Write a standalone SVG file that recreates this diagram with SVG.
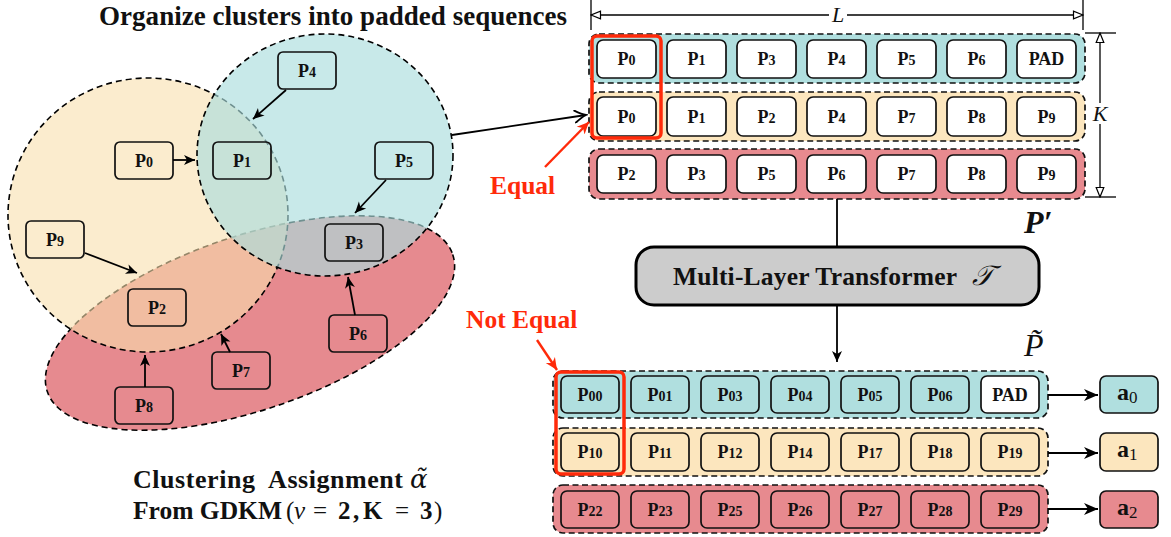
<svg xmlns="http://www.w3.org/2000/svg" width="1171" height="537" viewBox="0 0 1171 537">
  <style>
    .serif { font-family: "Liberation Serif", "Times New Roman", serif; }
    .bold { font-family: "Liberation Serif", "Times New Roman", serif; font-weight: bold; }
    .mathit { font-family: "Liberation Serif", "DejaVu Serif", serif; font-style: italic; }
    .box { stroke: #111; stroke-width: 1.7; }
    .vnode { fill: none; stroke: #111; stroke-width: 1.7; }
    .lbl { font-family: "Liberation Serif", serif; font-weight: bold; font-size: 18px; text-anchor: middle; fill: #111; }
    .lbl .d { font-size: 14px; }
    .cont { stroke: #111; stroke-width: 1.7; stroke-dasharray: 6 3.5; }
    .teal { fill: #b0dfdf; }
    .yel { fill: #fce6be; }
    .red { fill: #e78a8f; }
    .white { fill: #ffffff; }
    .hl { fill: none; stroke: #ff2a0a; stroke-width: 3.5; }
    .wire { stroke: #000; stroke-width: 1.8; fill: none; }
    .dim { stroke: #000; stroke-width: 1.3; fill: none; }
    .note { font-family: "Liberation Serif", serif; font-weight: bold; font-size: 25.5px; fill: #ff2a0a; }
    .aout { font-family: "Liberation Serif", serif; font-weight: bold; font-size: 24px; fill: #111; }
    .aout .s { font-weight: normal; font-size: 17px; }
  </style>
  <defs>
    <marker id="stealth" viewBox="-12 -6 13 12" refX="0" refY="0" markerWidth="13" markerHeight="12" markerUnits="userSpaceOnUse" orient="auto">
      <path d="M0,0 L-11,-5 L-8,0 L-11,5 Z" fill="#000"/>
    </marker>
    <marker id="stealth-big" viewBox="-15 -7 16 14" refX="0" refY="0" markerWidth="16" markerHeight="14" markerUnits="userSpaceOnUse" orient="auto">
      <path d="M0,0 L-14,-6 L-10,0 L-14,6 Z" fill="#000"/>
    </marker>
    <marker id="stealth-red" viewBox="-12 -6 13 12" refX="0" refY="0" markerWidth="13" markerHeight="12" markerUnits="userSpaceOnUse" orient="auto">
      <path d="M0,0 L-12,-5.5 L-8.5,0 L-12,5.5 Z" fill="#ff2a0a"/>
    </marker>
    <marker id="barbs" viewBox="-13 -7 15 14" refX="0" refY="0" markerWidth="15" markerHeight="14" markerUnits="userSpaceOnUse" orient="auto">
      <path d="M-11,-6 Q-4,-1.2 0,0 Q-4,1.2 -11,6" fill="none" stroke="#000" stroke-width="1.9" stroke-linecap="round"/>
    </marker>
    <marker id="open-tri" viewBox="-11 -5 12 10" refX="0" refY="0" markerWidth="12" markerHeight="10" markerUnits="userSpaceOnUse" orient="auto">
      <path d="M0,0 L-9.5,-3.8 L-9.5,3.8 Z" fill="#fff" stroke="#000" stroke-width="1.2" stroke-linejoin="miter"/>
    </marker>
  </defs>

  <!-- overlapping cluster regions -->
  <g id="clusters">
    <ellipse id="cluster-red" cx="250" cy="323" rx="214" ry="87" transform="rotate(-18.7 250 323)" fill="#e68a8f" stroke="#000" stroke-width="1.6" stroke-dasharray="6 4"/>
    <ellipse id="cluster-yellow" cx="148" cy="215" rx="140" ry="137" fill="#f9dfae" fill-opacity="0.6" stroke="#000" stroke-width="1.6" stroke-dasharray="6 4"/>
    <ellipse id="cluster-teal" cx="325" cy="155" rx="128" ry="121" fill="#abdddd" fill-opacity="0.65" stroke="#000" stroke-width="1.6" stroke-dasharray="6 4"/>
  </g>

  <!-- point nodes -->
  <g id="node-p4"><rect class="vnode" x="278" y="52" width="58" height="37" rx="5"/><text class="lbl" x="307" y="77">P<tspan class="d">4</tspan></text></g>
  <g id="node-p0"><rect class="vnode" x="115" y="142" width="58" height="37" rx="5"/><text class="lbl" x="144" y="167">P<tspan class="d">0</tspan></text></g>
  <g id="node-p1"><rect class="vnode" x="213" y="142" width="58" height="37" rx="5"/><text class="lbl" x="242" y="167">P<tspan class="d">1</tspan></text></g>
  <g id="node-p5"><rect class="vnode" x="375" y="142" width="58" height="37" rx="5"/><text class="lbl" x="404" y="167">P<tspan class="d">5</tspan></text></g>
  <g id="node-p9"><rect class="vnode" x="26" y="221" width="58" height="37" rx="5"/><text class="lbl" x="55" y="246">P<tspan class="d">9</tspan></text></g>
  <g id="node-p3"><rect class="vnode" x="325" y="224" width="58" height="37" rx="5"/><text class="lbl" x="354" y="249">P<tspan class="d">3</tspan></text></g>
  <g id="node-p2"><rect class="vnode" x="128" y="289" width="58" height="37" rx="5"/><text class="lbl" x="157" y="314">P<tspan class="d">2</tspan></text></g>
  <g id="node-p6"><rect class="vnode" x="329" y="315" width="58" height="37" rx="5"/><text class="lbl" x="358" y="340">P<tspan class="d">6</tspan></text></g>
  <g id="node-p7"><rect class="vnode" x="212" y="352" width="58" height="37" rx="5"/><text class="lbl" x="241" y="377">P<tspan class="d">7</tspan></text></g>
  <g id="node-p8"><rect class="vnode" x="115" y="387" width="58" height="37" rx="5"/><text class="lbl" x="144" y="412">P<tspan class="d">8</tspan></text></g>

  <!-- headings -->
  <g id="title">
    <text class="bold" x="99" y="25" font-size="27" fill="#111" textLength="468">Organize clusters into padded sequences</text>
  </g>
  <g id="caption" fill="#111">
    <text class="bold" x="133" y="488" font-size="26" style="white-space:pre" textLength="270">Clustering  Assignment</text>
    <text x="410" y="488" font-size="26" font-style="italic" font-family="'DejaVu Serif', 'Liberation Serif', serif">α̃</text>
    <text class="bold" x="133" y="519" font-size="25.5">From GDKM</text>
    <text class="serif" y="519" font-size="25"><tspan x="286">(</tspan><tspan x="294" font-style="italic">ν</tspan><tspan x="313">=</tspan><tspan x="338" font-weight="bold">2</tspan><tspan x="353" font-weight="bold">,</tspan><tspan x="363" font-weight="bold">K</tspan><tspan x="395">=</tspan><tspan x="420" font-weight="bold">3</tspan><tspan x="434">)</tspan></text>
  </g>

  <!-- padded sequences P' -->
  <g id="seq-top-0">
    <rect class="cont teal" x="589" y="34" width="496" height="49" rx="10"/>
    <g class="white box">
      <rect x="597" y="40" width="59" height="38" rx="6"/><rect x="667" y="40" width="59" height="38" rx="6"/><rect x="737" y="40" width="59" height="38" rx="6"/><rect x="807" y="40" width="59" height="38" rx="6"/><rect x="877" y="40" width="59" height="38" rx="6"/><rect x="947" y="40" width="59" height="38" rx="6"/><rect x="1017" y="40" width="59" height="38" rx="6"/>
    </g>
    <text class="lbl" x="626.5" y="65">P<tspan class="d">0</tspan></text>
    <text class="lbl" x="696.5" y="65">P<tspan class="d">1</tspan></text>
    <text class="lbl" x="766.5" y="65">P<tspan class="d">3</tspan></text>
    <text class="lbl" x="836.5" y="65">P<tspan class="d">4</tspan></text>
    <text class="lbl" x="906.5" y="65">P<tspan class="d">5</tspan></text>
    <text class="lbl" x="976.5" y="65">P<tspan class="d">6</tspan></text>
    <text class="lbl" x="1046.5" y="65" font-size="17">PAD</text>
  </g>
  <g id="seq-top-1">
    <rect class="cont yel" x="589" y="92" width="496" height="49" rx="10"/>
    <g class="white box">
      <rect x="597" y="97" width="59" height="39" rx="6"/><rect x="667" y="97" width="59" height="39" rx="6"/><rect x="737" y="97" width="59" height="39" rx="6"/><rect x="807" y="97" width="59" height="39" rx="6"/><rect x="877" y="97" width="59" height="39" rx="6"/><rect x="947" y="97" width="59" height="39" rx="6"/><rect x="1017" y="97" width="59" height="39" rx="6"/>
    </g>
    <text class="lbl" x="626.5" y="123">P<tspan class="d">0</tspan></text>
    <text class="lbl" x="696.5" y="123">P<tspan class="d">1</tspan></text>
    <text class="lbl" x="766.5" y="123">P<tspan class="d">2</tspan></text>
    <text class="lbl" x="836.5" y="123">P<tspan class="d">4</tspan></text>
    <text class="lbl" x="906.5" y="123">P<tspan class="d">7</tspan></text>
    <text class="lbl" x="976.5" y="123">P<tspan class="d">8</tspan></text>
    <text class="lbl" x="1046.5" y="123">P<tspan class="d">9</tspan></text>
  </g>
  <g id="seq-top-2">
    <rect class="cont red" x="589" y="149" width="496" height="50" rx="10"/>
    <g class="white box">
      <rect x="597" y="155" width="59" height="38" rx="6"/><rect x="667" y="155" width="59" height="38" rx="6"/><rect x="737" y="155" width="59" height="38" rx="6"/><rect x="807" y="155" width="59" height="38" rx="6"/><rect x="877" y="155" width="59" height="38" rx="6"/><rect x="947" y="155" width="59" height="38" rx="6"/><rect x="1017" y="155" width="59" height="38" rx="6"/>
    </g>
    <text class="lbl" x="626.5" y="180">P<tspan class="d">2</tspan></text>
    <text class="lbl" x="696.5" y="180">P<tspan class="d">3</tspan></text>
    <text class="lbl" x="766.5" y="180">P<tspan class="d">5</tspan></text>
    <text class="lbl" x="836.5" y="180">P<tspan class="d">6</tspan></text>
    <text class="lbl" x="906.5" y="180">P<tspan class="d">7</tspan></text>
    <text class="lbl" x="976.5" y="180">P<tspan class="d">8</tspan></text>
    <text class="lbl" x="1046.5" y="180">P<tspan class="d">9</tspan></text>
  </g>
  <g id="highlight-equal">
    <rect class="hl" x="592" y="36" width="69" height="102" rx="5"/>
  </g>
  <g id="label-pprime">
    <text class="serif" x="1024" y="233" font-size="32" font-weight="bold" font-style="italic" fill="#111">P′</text>
  </g>

  <!-- dimension marks L and K -->
  <g id="dimensions">
    <line class="dim" x1="591" y1="0" x2="591" y2="30"/>
    <line class="dim" x1="1083" y1="0" x2="1083" y2="30"/>
    <line class="dim" x1="829" y1="15" x2="591" y2="15" marker-end="url(#open-tri)"/>
    <line class="dim" x1="847" y1="15" x2="1083" y2="15" marker-end="url(#open-tri)"/>
    <text class="mathit" x="838" y="22" font-size="22" text-anchor="middle" fill="#111">L</text>
    <line class="dim" x1="1085" y1="33" x2="1116" y2="33"/>
    <line class="dim" x1="1085" y1="197" x2="1116" y2="197"/>
    <line class="dim" x1="1100" y1="103" x2="1100" y2="33" marker-end="url(#open-tri)"/>
    <line class="dim" x1="1100" y1="124" x2="1100" y2="197" marker-end="url(#open-tri)"/>
    <text class="mathit" x="1100" y="121" font-size="22" text-anchor="middle" fill="#111">K</text>
  </g>

  <!-- transformer block -->
  <g id="transformer">
    <rect x="636" y="247" width="403" height="58" rx="18" fill="#cccccc" stroke="#000" stroke-width="3"/>
    <text class="bold" x="673" y="285" font-size="25.5" fill="#111" textLength="284">Multi-Layer Transformer</text>
    <text x="972" y="285" font-size="28" font-style="italic" font-family="'DejaVu Serif', 'Liberation Serif', serif" fill="#111">𝒯</text>
  </g>

  <!-- transformed sequences P~ -->
  <g id="label-ptilde">
    <text class="mathit" x="1024" y="356" font-size="32" fill="#111">P̃</text>
  </g>
  <g id="seq-out-0">
    <rect class="cont teal" x="553" y="371" width="495" height="47" rx="10"/>
    <g class="teal box">
      <rect x="561" y="376" width="58" height="37" rx="6"/><rect x="631" y="376" width="58" height="37" rx="6"/><rect x="701" y="376" width="58" height="37" rx="6"/><rect x="771" y="376" width="58" height="37" rx="6"/><rect x="841" y="376" width="58" height="37" rx="6"/><rect x="911" y="376" width="58" height="37" rx="6"/>
    </g>
    <rect class="white box" x="981" y="376" width="58" height="37" rx="6"/>
    <text class="lbl" x="590" y="401">P<tspan class="d">00</tspan></text>
    <text class="lbl" x="660" y="401">P<tspan class="d">01</tspan></text>
    <text class="lbl" x="730" y="401">P<tspan class="d">03</tspan></text>
    <text class="lbl" x="800" y="401">P<tspan class="d">04</tspan></text>
    <text class="lbl" x="870" y="401">P<tspan class="d">05</tspan></text>
    <text class="lbl" x="940" y="401">P<tspan class="d">06</tspan></text>
    <text class="lbl" x="1010" y="401" font-size="17">PAD</text>
  </g>
  <g id="seq-out-1">
    <rect class="cont yel" x="553" y="428" width="495" height="48" rx="10"/>
    <g class="yel box">
      <rect x="561" y="433" width="58" height="38" rx="6"/><rect x="631" y="433" width="58" height="38" rx="6"/><rect x="701" y="433" width="58" height="38" rx="6"/><rect x="771" y="433" width="58" height="38" rx="6"/><rect x="841" y="433" width="58" height="38" rx="6"/><rect x="911" y="433" width="58" height="38" rx="6"/><rect x="981" y="433" width="58" height="38" rx="6"/>
    </g>
    <text class="lbl" x="590" y="458">P<tspan class="d">10</tspan></text>
    <text class="lbl" x="660" y="458">P<tspan class="d">11</tspan></text>
    <text class="lbl" x="730" y="458">P<tspan class="d">12</tspan></text>
    <text class="lbl" x="800" y="458">P<tspan class="d">14</tspan></text>
    <text class="lbl" x="870" y="458">P<tspan class="d">17</tspan></text>
    <text class="lbl" x="940" y="458">P<tspan class="d">18</tspan></text>
    <text class="lbl" x="1010" y="458">P<tspan class="d">19</tspan></text>
  </g>
  <g id="seq-out-2">
    <rect class="cont red" x="553" y="485" width="495" height="48" rx="10"/>
    <g class="red box">
      <rect x="561" y="491" width="58" height="37" rx="6"/><rect x="631" y="491" width="58" height="37" rx="6"/><rect x="701" y="491" width="58" height="37" rx="6"/><rect x="771" y="491" width="58" height="37" rx="6"/><rect x="841" y="491" width="58" height="37" rx="6"/><rect x="911" y="491" width="58" height="37" rx="6"/><rect x="981" y="491" width="58" height="37" rx="6"/>
    </g>
    <text class="lbl" x="590" y="516">P<tspan class="d">22</tspan></text>
    <text class="lbl" x="660" y="516">P<tspan class="d">23</tspan></text>
    <text class="lbl" x="730" y="516">P<tspan class="d">25</tspan></text>
    <text class="lbl" x="800" y="516">P<tspan class="d">26</tspan></text>
    <text class="lbl" x="870" y="516">P<tspan class="d">27</tspan></text>
    <text class="lbl" x="940" y="516">P<tspan class="d">28</tspan></text>
    <text class="lbl" x="1010" y="516">P<tspan class="d">29</tspan></text>
  </g>
  <g id="highlight-not-equal">
    <rect class="hl" x="556" y="372" width="68" height="102" rx="5"/>
  </g>

  <!-- aggregated outputs -->
  <g id="out-a0"><rect class="teal box" x="1100" y="376" width="58" height="37" rx="6"/><text class="aout" x="1117" y="400">a<tspan class="s" dy="3">0</tspan></text></g>
  <g id="out-a1"><rect class="yel box" x="1100" y="433" width="58" height="38" rx="6"/><text class="aout" x="1117" y="457">a<tspan class="s" dy="3">1</tspan></text></g>
  <g id="out-a2"><rect class="red box" x="1100" y="491" width="58" height="37" rx="6"/><text class="aout" x="1117" y="515">a<tspan class="s" dy="3">2</tspan></text></g>

  <!-- annotations -->
  <g id="note-equal">
    <text class="note" x="490" y="194">Equal</text>
  </g>
  <g id="note-not-equal">
    <text class="note" x="466" y="328">Not Equal</text>
  </g>

  <!-- connectors -->
  <g id="connectors">
    <g class="wire" stroke-width="1.7">
      <line x1="286" y1="90" x2="253" y2="119" marker-end="url(#stealth)"/>
      <line x1="173" y1="160" x2="195" y2="160" marker-end="url(#stealth)"/>
      <line x1="386" y1="180" x2="355" y2="213" marker-end="url(#stealth)"/>
      <line x1="85" y1="253" x2="137" y2="273" marker-end="url(#stealth)"/>
      <line x1="355" y1="315" x2="348" y2="277" marker-end="url(#stealth)"/>
      <line x1="230" y1="352" x2="221" y2="334" marker-end="url(#stealth)"/>
      <line x1="145" y1="387" x2="145" y2="355" marker-end="url(#stealth)"/>
    </g>
    <line class="wire" stroke-width="2.2" x1="452" y1="135" x2="586" y2="115" marker-end="url(#barbs)"/>
    <line class="wire" x1="837" y1="199" x2="837" y2="247"/>
    <line class="wire" x1="837" y1="305" x2="837" y2="362" marker-end="url(#stealth)"/>
    <line class="wire" stroke-width="2.6" x1="1048" y1="395" x2="1098" y2="395" marker-end="url(#stealth-big)"/>
    <line class="wire" stroke-width="2.6" x1="1048" y1="453" x2="1098" y2="453" marker-end="url(#stealth-big)"/>
    <line class="wire" stroke-width="2.6" x1="1048" y1="509" x2="1098" y2="509" marker-end="url(#stealth-big)"/>
    <line stroke="#ff2a0a" stroke-width="2.4" x1="545" y1="167" x2="589" y2="122" marker-end="url(#stealth-red)"/>
    <line stroke="#ff2a0a" stroke-width="2.4" x1="537" y1="340" x2="557" y2="370" marker-end="url(#stealth-red)"/>
  </g>
</svg>
